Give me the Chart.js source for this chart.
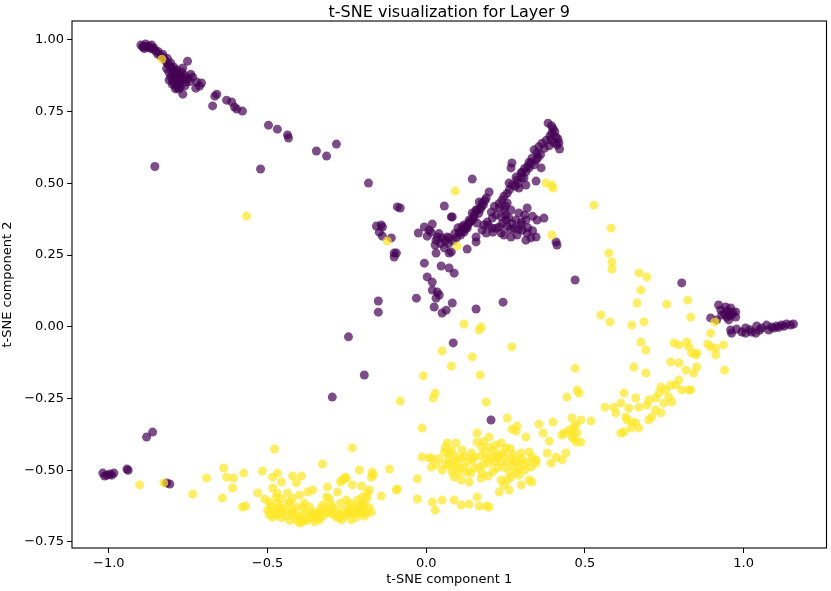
<!DOCTYPE html>
<html>
<head>
<meta http-equiv="Content-Type" content="text/html; charset=UTF-8" />
<title>t-SNE visualization for Layer 9</title>
<script src="https://cdn.jsdelivr.net/npm/chart.js"></script>
<style>
    body { margin:0; background:#fff; overflow:hidden; }
    #tsne { display:block; }
</style>
</head>
<body>
<canvas id="tsne" width="831" height="591" style="width:831px;height:591px;"></canvas>

<script>
    var chartTitle = 't-SNE visualization for Layer 9'
    var xLabel = 't-SNE component 1'
    var yLabel = 't-SNE component 2'
    var xTicks = [-1.0, -0.5, 0.0, 0.5, 1.0]
    var yTicks = [-0.75, -0.5, -0.25, 0.0, 0.25, 0.5, 0.75, 1.0]

    // label 0 (purple) - [component 1, component 2]
    var purpleTopLeft = [
        [-0.899,0.982],[-0.893,0.975],[-0.884,0.986],[-0.874,0.979],[-0.865,0.982],[-0.862,0.968],[-0.852,0.961],
        [-0.846,0.951],[-0.836,0.944],[-0.827,0.937],[-0.821,0.926],[-0.814,0.916],[-0.808,0.909],[-0.802,0.902],
        [-0.796,0.895],[-0.789,0.888],[-0.783,0.881],[-0.777,0.874],[-0.811,0.888],[-0.805,0.871],[-0.799,0.857],
        [-0.792,0.846],[-0.786,0.836],[-0.780,0.829],[-0.770,0.888],[-0.764,0.867],[-0.758,0.853],[-0.777,0.853],
        [-0.792,0.867],[-0.767,0.902],[-0.752,0.926],[-0.767,0.811],[-0.736,0.871],[-0.723,0.853],[-0.708,0.850],
        [-0.726,0.832],[-0.714,0.839],[-0.660,0.811],[-0.666,0.804],[-0.673,0.770],[-0.629,0.790],[-0.613,0.784],
        [-0.604,0.766],[-0.597,0.759],[-0.579,0.752],[-0.497,0.703],[-0.469,0.689],[-0.437,0.669],[-0.434,0.658],
        [-0.346,0.613],[-0.314,0.595],[-0.283,0.637],[-0.855,0.559],[-0.522,0.550],[-0.182,0.501],
        [-0.888,0.970],[-0.880,0.975],[-0.858,0.972],[-0.818,0.900],[-0.800,0.880],[-0.785,0.860],[-0.795,0.875],
        [-0.890,0.978],[-0.870,0.972],[-0.845,0.960],[-0.830,0.950],[-0.815,0.935],[-0.805,0.920],[-0.795,0.905],
        [-0.785,0.895],[-0.775,0.880],[-0.770,0.860],[-0.780,0.845],[-0.790,0.830],[-0.775,0.835],[-0.760,0.875],
        [-0.750,0.865],[-0.745,0.855],[-0.800,0.845],[-0.810,0.860],[-0.760,0.840],[-0.742,0.880]
    ]
    var purpleCenter = [
        [-0.091,0.418],[-0.082,0.414],[-0.157,0.351],[-0.142,0.355],[-0.138,0.348],[-0.148,0.330],[-0.138,0.316],
        [-0.110,0.310],[-0.101,0.257],[-0.094,0.257],[-0.101,0.243],[0.145,0.515],[0.057,0.421],[0.079,0.383],
        [-0.025,0.327],[-0.006,0.348],[0.009,0.337],[0.003,0.316],[0.019,0.358],[0.031,0.302],[0.028,0.285],
        [0.035,0.313],[0.050,0.310],[0.066,0.313],[0.057,0.275],[0.031,0.257],[0.072,0.257],[0.079,0.261],
        [0.110,0.330],[0.119,0.355],[0.129,0.344],[0.135,0.372],[0.145,0.397],[0.157,0.407],[0.160,0.362],
        [0.157,0.313],[0.129,0.271],[0.157,0.296],[-0.006,0.222],[0.047,0.212],[0.072,0.205],[0.088,0.187],
        [0.003,0.174],[0.019,0.156],[0.019,0.128],[0.035,0.121],[0.041,0.111],[0.031,0.100],[0.025,0.069],
        [0.050,0.048],[0.063,0.058],[0.082,0.083],[-0.031,0.100],[0.157,0.062],[0.242,0.086],[0.469,0.163],
        [-0.151,0.090],[-0.151,0.051],[-0.245,-0.035],[0.085,-0.056],[-0.195,-0.168],[-0.296,-0.245],[0.204,-0.325],
        [0.384,0.710],[0.396,0.676],[0.409,0.662],[0.393,0.652],[0.403,0.641],[0.412,0.634],[0.387,0.631],
        [0.418,0.641],[0.340,0.617],[0.349,0.606],[0.333,0.588],[0.346,0.581],[0.330,0.571],[0.324,0.554],
        [0.362,0.554],[0.314,0.540],[0.270,0.571],[0.267,0.554],[0.299,0.536],[0.286,0.512],[0.308,0.519],
        [0.270,0.494],[0.292,0.484],[0.314,0.494],[0.346,0.508],
        [0.395,0.700],[0.400,0.690],[0.405,0.680],[0.390,0.665],[0.378,0.650],[0.365,0.640],[0.355,0.628],
        [0.372,0.622],[0.360,0.600],[0.352,0.590],[0.340,0.565],[0.320,0.560],[0.310,0.552],[0.300,0.520],
        [0.290,0.500],[0.280,0.490],[0.262,0.478],[0.255,0.465],[0.245,0.455],[0.230,0.430],[0.415,0.655],
        [0.420,0.620],
        [0.198,0.470],[0.189,0.449],[0.176,0.432],[0.173,0.418],[0.160,0.407],[0.151,0.390],[0.145,0.372],
        [0.135,0.362],[0.126,0.348],[0.119,0.330],[0.167,0.435],[0.113,0.348],[0.104,0.330],
        [0.185,0.440],[0.180,0.425],[0.170,0.410],[0.165,0.395],[0.150,0.380],[0.140,0.368],[0.130,0.355],
        [0.120,0.340],[0.108,0.320],[0.095,0.310],[0.085,0.300],[0.070,0.290],[0.060,0.300],[0.045,0.290],
        [0.040,0.325],[0.015,0.330],[0.100,0.345],[0.090,0.325],
        [0.239,0.442],[0.255,0.432],[0.267,0.407],[0.245,0.407],[0.230,0.414],[0.220,0.390],[0.236,0.383],
        [0.252,0.372],[0.208,0.379],[0.192,0.365],[0.182,0.355],[0.176,0.337],[0.189,0.327],[0.283,0.372],
        [0.292,0.397],[0.318,0.414],[0.314,0.372],[0.299,0.355],[0.302,0.337],[0.318,0.327],[0.277,0.344],
        [0.286,0.320],[0.267,0.313],[0.230,0.348],[0.220,0.344],[0.208,0.344],[0.349,0.372],[0.371,0.379],
        [0.330,0.310],[0.346,0.313],[0.314,0.302],[0.236,0.327],[0.409,0.296],[0.412,0.285],[0.261,0.501],
        [0.283,0.522],[0.302,0.540],[0.324,0.574],[0.082,0.383],[0.072,0.310],
        [0.250,0.390],[0.260,0.380],[0.270,0.360],[0.240,0.360],[0.255,0.350],[0.265,0.340],[0.290,0.340],
        [0.300,0.365],[0.310,0.390],[0.335,0.385],[0.320,0.345],[0.335,0.335],[0.205,0.400],[0.215,0.420],
        [0.250,0.420],[0.195,0.355],[0.210,0.330],[0.245,0.320]
    ]
    var purpleRight = [
        [0.921,0.076],[0.943,0.069],[0.959,0.066],[0.975,0.052],[0.962,0.041],[0.947,0.034],[0.931,0.041],
        [0.928,0.059],[0.896,0.031],[0.915,0.024],[0.953,0.024],[0.975,0.034],[0.950,0.055],[0.965,0.050],
        [0.940,0.045],[0.955,0.040],[0.959,-0.011],[0.962,-0.022],[0.978,-0.008],[0.994,-0.018],[1.006,-0.004],
        [1.025,-0.018],[1.041,0.003],[1.057,-0.004],[1.072,0.006],[1.088,-0.001],[1.104,0.003],[1.119,0.006],
        [1.135,0.010],[1.148,0.006],[1.157,0.010],[1.038,-0.022],[1.006,-0.022],[1.079,-0.011],[1.020,-0.010],
        [1.050,-0.012],[1.095,-0.004],[1.127,0.002],[1.110,-0.002],[0.805,0.153]
    ]
    var purpleLower = [
        [-1.006,-0.517],[-0.997,-0.513],[-1.013,-0.520],[-0.991,-0.517],[-1.019,-0.510],[-0.984,-0.510],
        [-0.943,-0.496],[-0.939,-0.500],[-0.881,-0.384],[-0.862,-0.367],[-0.808,-0.548],[-0.818,-0.544]
    ]

    // label 1 (yellow)
    var yellowLeft = [
        [-0.903,-0.551],[-0.827,-0.544],[-0.736,-0.583],[-0.692,-0.527],[-0.642,-0.597],[-0.638,-0.492],[-0.629,-0.524],
        [-0.607,-0.527],[-0.610,-0.562],[-0.575,-0.510],[-0.579,-0.628],[-0.569,-0.625],[-0.516,-0.503],[-0.531,-0.579],
        [-0.509,-0.600],[-0.484,-0.524],[-0.478,-0.426],[-0.469,-0.510],[-0.456,-0.541],[-0.484,-0.562],[-0.472,-0.593],
        [-0.494,-0.656],[-0.478,-0.639],[-0.462,-0.628],[-0.437,-0.579],[-0.421,-0.520],[-0.409,-0.544],[-0.393,-0.520],
        [-0.374,-0.576],[-0.358,-0.569],[-0.431,-0.611],[-0.421,-0.639],[-0.409,-0.673],[-0.399,-0.684],[-0.384,-0.649],
        [-0.368,-0.628],[-0.352,-0.663],[-0.336,-0.639],[-0.327,-0.478],[-0.311,-0.558],[-0.314,-0.593],[-0.296,-0.632],
        [-0.283,-0.663],[-0.267,-0.673],[-0.280,-0.576],[-0.264,-0.534],[-0.252,-0.527],[-0.233,-0.422],[-0.233,-0.551],
        [-0.211,-0.499],[-0.204,-0.555],[-0.179,-0.569],[-0.170,-0.506],[-0.173,-0.524],[-0.186,-0.597],[-0.189,-0.649],
        [-0.211,-0.639],[-0.233,-0.649],[-0.252,-0.604],[-0.242,-0.628],[-0.217,-0.604],[-0.142,-0.590],[-0.116,-0.496],
        [-0.091,-0.565],[-0.028,-0.600],[-0.028,-0.530],[-0.487,-0.639],[-0.472,-0.656],[-0.456,-0.666],[-0.484,-0.663],
        [-0.453,-0.632],[-0.431,-0.614],[-0.421,-0.597],[-0.399,-0.586],[-0.409,-0.628],[-0.425,-0.646],[-0.393,-0.680],
        [-0.377,-0.673],[-0.362,-0.666],[-0.384,-0.614],[-0.352,-0.656],[-0.336,-0.673],[-0.327,-0.621],[-0.314,-0.646],
        [-0.274,-0.666],[-0.248,-0.649],[-0.220,-0.663],[-0.204,-0.628],[-0.201,-0.593],[-0.186,-0.579],[-0.173,-0.646],
        [-0.236,-0.673],[-0.352,-0.680],[-0.330,-0.646],[-0.255,-0.524],[-0.270,-0.541],[-0.167,-0.517],[-0.094,-0.569],
        [-0.201,-0.611],
        [-0.500,-0.640],[-0.490,-0.625],[-0.470,-0.615],[-0.460,-0.650],[-0.445,-0.640],[-0.440,-0.660],[-0.430,-0.675],
        [-0.415,-0.655],[-0.405,-0.660],[-0.395,-0.665],[-0.388,-0.630],[-0.380,-0.675],[-0.370,-0.655],[-0.360,-0.645],
        [-0.345,-0.650],[-0.340,-0.665],[-0.325,-0.660],[-0.320,-0.630],[-0.305,-0.650],[-0.300,-0.620],[-0.290,-0.655],
        [-0.285,-0.640],[-0.270,-0.655],[-0.260,-0.640],[-0.255,-0.660],[-0.245,-0.645],[-0.240,-0.615],[-0.230,-0.630],
        [-0.225,-0.650],[-0.215,-0.625],[-0.210,-0.650],[-0.200,-0.645],[-0.195,-0.620],[-0.180,-0.630],[-0.195,-0.660],
        [-0.270,-0.615],[-0.305,-0.600],[-0.455,-0.600],[-0.470,-0.580],[-0.495,-0.610]
    ]
    var yellowCenter = [
        [0.066,-0.405],[0.094,-0.405],[0.057,-0.436],[0.072,-0.440],[0.113,-0.429],[0.110,-0.457],[0.142,-0.440],
        [0.145,-0.464],[0.072,-0.482],[0.088,-0.489],[0.050,-0.499],[0.104,-0.492],[0.126,-0.506],[0.088,-0.524],
        [0.110,-0.534],[0.135,-0.541],[0.173,-0.527],[0.176,-0.510],[0.167,-0.489],[0.151,-0.492],[0.016,-0.457],
        [0.016,-0.489],[-0.013,-0.454],[0.009,-0.457],
        [0.160,-0.370],[0.160,-0.402],[0.198,-0.384],[0.198,-0.419],[0.220,-0.412],[0.236,-0.405],[0.252,-0.422],
        [0.220,-0.447],[0.239,-0.440],[0.204,-0.457],[0.198,-0.475],[0.236,-0.471],[0.223,-0.492],[0.267,-0.457],
        [0.270,-0.482],[0.299,-0.440],[0.292,-0.471],[0.308,-0.482],[0.324,-0.436],[0.333,-0.454],[0.346,-0.464],
        [0.330,-0.489],[0.346,-0.475],[0.261,-0.506],[0.283,-0.506],[0.292,-0.517],[0.267,-0.524],[0.236,-0.534],
        [0.245,-0.551],[0.261,-0.569],[0.230,-0.576],[0.299,-0.551],[0.324,-0.534],[0.333,-0.541],
        [0.060,-0.420],[0.080,-0.430],[0.090,-0.450],[0.100,-0.470],[0.085,-0.470],[0.070,-0.460],[0.120,-0.450],
        [0.130,-0.470],[0.120,-0.490],[0.140,-0.510],[0.100,-0.510],[0.080,-0.505],[0.060,-0.480],[0.150,-0.455],
        [0.175,-0.420],[0.185,-0.440],[0.190,-0.460],[0.180,-0.480],[0.210,-0.430],[0.215,-0.470],[0.225,-0.455],
        [0.245,-0.445],[0.255,-0.470],[0.245,-0.490],[0.275,-0.445],[0.280,-0.470],[0.300,-0.460],[0.310,-0.500],
        [0.290,-0.495],[0.255,-0.535],[0.210,-0.505],[0.195,-0.520],[0.180,-0.400],[0.170,-0.450],[0.040,-0.460],
        [0.030,-0.480],[0.320,-0.470],[0.265,-0.425],
        [0.019,-0.611],[0.028,-0.639],[0.050,-0.604],[0.088,-0.604],[0.110,-0.621],[0.135,-0.618],[0.160,-0.593],
        [0.167,-0.625],[0.189,-0.625],[0.198,-0.628],
        [0.167,-0.011],[0.119,0.010],[0.050,-0.084],[0.145,-0.105],[0.270,-0.070],[0.079,-0.137],[0.170,-0.168],
        [-0.009,-0.171],[0.028,-0.231],[0.022,-0.248],[-0.082,-0.259],[0.189,-0.262],[-0.013,-0.353],[0.255,-0.318],
        [0.286,-0.346],[0.270,-0.356],[0.283,-0.363],[0.314,-0.384],
        [0.355,-0.339],[0.368,-0.370],[0.387,-0.398],[0.399,-0.332],[0.434,-0.370],[0.450,-0.360],[0.459,-0.318],
        [0.472,-0.342],[0.487,-0.325],[0.519,-0.328],[0.475,-0.370],[0.472,-0.402],[0.487,-0.402],[0.459,-0.384],
        [0.381,-0.440],[0.409,-0.454],[0.440,-0.440],[0.428,-0.464],[0.393,-0.475],[0.475,-0.220],[0.481,-0.231],
        [0.443,-0.245],[0.469,-0.144],[0.563,-0.280]
    ]
    var yellowArc = [
        [0.377,0.501],[0.396,0.494],[0.399,0.484],[0.528,0.424],[0.582,0.344],[0.396,0.320],[0.575,0.257],
        [0.585,0.226],[0.585,0.201],[0.550,0.041],[0.579,0.017],[0.173,-0.001],[0.670,0.188],[0.695,0.174],
        [0.676,0.128],[0.664,0.083],[0.758,0.079],[0.824,0.093],[0.648,0.006],[0.686,0.017],[0.833,0.034],
        [0.909,0.017],[0.896,-0.022],[0.887,-0.060],[0.896,-0.070],[0.912,-0.074],[0.937,-0.063],[0.912,-0.098],
        [0.940,-0.151],[0.780,-0.056],[0.796,-0.063],[0.821,-0.053],[0.827,-0.070],[0.836,-0.091],[0.849,-0.098],
        [0.852,-0.091],[0.676,-0.053],[0.692,-0.081],[0.654,-0.140],[0.692,-0.161],[0.770,-0.123],[0.796,-0.126],
        [0.818,-0.151],[0.843,-0.161],[0.852,-0.140],[0.796,-0.185],[0.786,-0.203],[0.805,-0.220],[0.833,-0.220],
        [0.739,-0.210],[0.755,-0.220],[0.733,-0.231],[0.764,-0.245],[0.774,-0.262],[0.748,-0.266],[0.723,-0.248],
        [0.701,-0.255],[0.695,-0.273],[0.723,-0.290],[0.739,-0.300],[0.711,-0.314],[0.701,-0.325],[0.670,-0.280],
        [0.660,-0.248],[0.623,-0.231],[0.613,-0.266],[0.591,-0.280],[0.597,-0.300],[0.632,-0.325],[0.660,-0.335],
        [0.670,-0.353],[0.645,-0.353],[0.613,-0.370],[0.623,-0.367],[0.465,-0.349],[0.459,-0.370],[0.428,-0.377],
        [0.465,-0.388],[0.638,-0.283],[0.629,-0.314],[0.648,-0.332],[0.770,-0.203],[0.827,-0.220]
    ]
    var yellowStray = [
        [-0.833,0.933],[-0.566,0.386],[-0.123,0.299],[0.091,0.473],[0.097,0.282]
    ]

    var fmt = function(v, d) {
        return (v < 0 ? '\u2212' : '') + Math.abs(v).toFixed(d)
    }
    var toPoints = function(list) {
        return list.map(function(p) { return {x: p[0], y: p[1]} })
    }

    var purple = [].concat(purpleTopLeft, purpleCenter, purpleRight, purpleLower)
    var yellow = [].concat(yellowLeft, yellowCenter, yellowArc, yellowStray)

    var font = 'DejaVu Sans'

    // frame + title, matplotlib style
    var frame = {
        id: 'frame',
        afterDraw: function(chart) {
            var a = chart.chartArea
            var ctx = chart.ctx
            ctx.save()
            ctx.strokeStyle = '#000'
            ctx.lineWidth = 1.1
            ctx.strokeRect(a.left, a.top, a.right - a.left, a.bottom - a.top)
            ctx.fillStyle = '#000'
            ctx.font = '16px "' + font + '"'
            ctx.textAlign = 'center'
            ctx.textBaseline = 'alphabetic'
            ctx.fillText(chartTitle, (a.left + a.right) / 2, 17)
            ctx.restore()
        }
    }

    var tickFont = { family: font, size: 13 }

    new Chart(document.getElementById('tsne'), {
        type: 'scatter',
        data: {
            datasets: [
                {
                    label: '1',
                    data: toPoints(yellow),
                    backgroundColor: 'rgba(253, 231, 37, 0.7)',
                    borderWidth: 0,
                    pointRadius: 4.5,
                },
                {
                    label: '0',
                    data: toPoints(purple),
                    backgroundColor: 'rgba(68, 1, 84, 0.7)',
                    borderWidth: 0,
                    pointRadius: 4.5,
                },
            ],
        },
        options: {
            responsive: false,
            animation: false,
            devicePixelRatio: 1,
            events: [],
            layout: { padding: { top: 21, right: 3, left: 0, bottom: 0 } },
            plugins: {
                legend: { display: false },
                title: { display: false },
                tooltip: { enabled: false },
            },
            scales: {
                x: {
                    type: 'linear',
                    min: -1.116,
                    max: 1.261,
                    afterFit: function(s) { s.height = 43 },
                    afterBuildTicks: function(s) { s.ticks = xTicks.map(function(v) { return {value: v} }) },
                    grid: { display: true, drawOnChartArea: false, drawTicks: true, tickLength: 5, color: '#000', lineWidth: 1 },
                    border: { display: false },
                    ticks: { color: '#000', font: tickFont, padding: 3, maxRotation: 0, autoSkip: false,
                             callback: function(v) { return fmt(v, 1) } },
                    title: { display: true, text: xLabel, color: '#000', font: tickFont, padding: { top: 0, bottom: 4 } },
                },
                y: {
                    type: 'linear',
                    min: -0.771,
                    max: 1.066,
                    afterFit: function(s) { s.width = 72 },
                    afterBuildTicks: function(s) { s.ticks = yTicks.map(function(v) { return {value: v} }) },
                    grid: { display: true, drawOnChartArea: false, drawTicks: true, tickLength: 5, color: '#000', lineWidth: 1 },
                    border: { display: false },
                    ticks: { color: '#000', font: tickFont, padding: 3, autoSkip: false,
                             callback: function(v) { return fmt(v, 2) } },
                    title: { display: true, text: yLabel, color: '#000', font: tickFont, padding: { top: 0, bottom: 0 } },
                },
            },
        },
        plugins: [frame],
    });
</script>
</body>
</html>
